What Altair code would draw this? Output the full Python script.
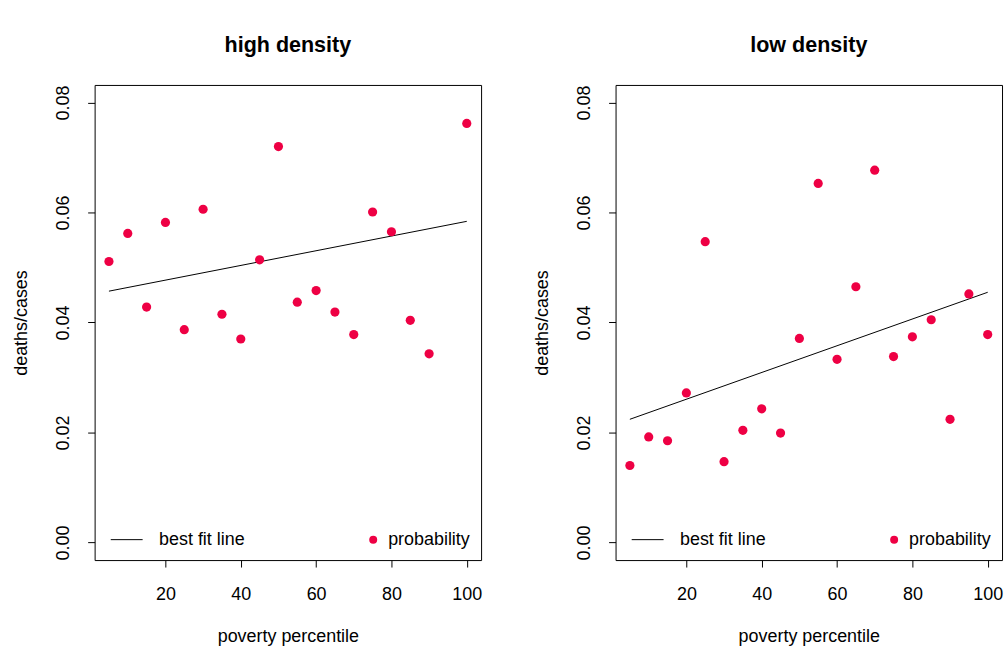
import altair as alt
import pandas as pd

# ---- data ----
high_x = [5, 10, 15, 20, 25, 30, 35, 40, 45, 50, 55, 60, 65, 70, 75, 80, 85, 90, 100]
high_y = [0.0511, 0.0562, 0.0428, 0.0582, 0.0387, 0.0606, 0.0415, 0.0370, 0.0514, 0.0720,
          0.0437, 0.0458, 0.0419, 0.0378, 0.0601, 0.0565, 0.0404, 0.0343, 0.0762]

low_x = [5, 10, 15, 20, 25, 30, 35, 40, 45, 50, 55, 60, 65, 70, 75, 80, 85, 90, 95, 100]
low_y = [0.0140, 0.0192, 0.0185, 0.0272, 0.0547, 0.0147, 0.0204, 0.0243, 0.0199, 0.0371,
         0.0653, 0.0333, 0.0465, 0.0677, 0.0338, 0.0374, 0.0405, 0.0224, 0.0452, 0.0378]

fit_x = [5, 100]
high_fit = [0.0457, 0.0584]
low_fit = [0.0224, 0.0455]

x_ticks = [20, 40, 60, 80, 100]
y_ticks = [0.0, 0.02, 0.04, 0.06, 0.08]

POINT_COLOR = "#EE0044"
FONT = "Liberation Sans"


def panel(title, px, py, fy):
    pts = pd.DataFrame({"x": px, "y": py, "series": "probability"})
    fit = pd.DataFrame({"x": fit_x, "y": fy, "series": "best fit line"})
    xs = alt.Scale(domain=[1.2, 103.8], nice=False, zero=False)
    ys = alt.Scale(domain=[-0.0032, 0.0832], nice=False, zero=False)
    xaxis = alt.Axis(values=x_ticks, title="poverty percentile", format="d",
                     labelPadding=18.5, titlePadding=24, grid=False)
    yaxis = alt.Axis(values=y_ticks, title="deaths/cases", format=".2f",
                     labelAngle=270, labelAlign="center", labelBaseline="bottom",
                     labelPadding=15, titlePadding=24, grid=False)

    line = alt.Chart(fit).mark_line(strokeWidth=1).encode(
        x=alt.X("x:Q", scale=xs, axis=xaxis),
        y=alt.Y("y:Q", scale=ys, axis=yaxis),
        color=alt.Color("series:N",
                        scale=alt.Scale(domain=["best fit line"], range=["black"]),
                        legend=alt.Legend(orient="none", legendX=15.7, legendY=440,
                                          title=None, symbolType="stroke",
                                          symbolSize=1024, symbolStrokeWidth=1,
                                          labelOffset=16, padding=0,
                                          labelFontSize=18, labelFont=FONT,
                                          labelColor="black")),
    )
    points = alt.Chart(pts).mark_circle(size=85, opacity=1).encode(
        x=alt.X("x:Q", scale=xs, axis=xaxis),
        y=alt.Y("y:Q", scale=ys, axis=yaxis),
        fill=alt.Fill("series:N",
                      scale=alt.Scale(domain=["probability"], range=[POINT_COLOR]),
                      legend=alt.Legend(orient="none", legendX=270.7, legendY=447.5,
                                        title=None, symbolType="circle",
                                        symbolSize=64, symbolStrokeWidth=0,
                                        labelOffset=6, padding=0,
                                        labelFontSize=18, labelFont=FONT,
                                        labelColor="black")),
    )
    return alt.layer(line, points).properties(
        width=388, height=477,
        title=alt.Title(title, anchor="middle", frame="group", fontSize=21.6,
                        fontWeight="bold", font=FONT, color="black",
                        baseline="bottom", offset=6.5),
    )


left = panel("high density", high_x, high_y, high_fit)
right = panel("low density", low_x, low_y, low_fit)

chart = (
    alt.hconcat(left, right, spacing=50)
    .resolve_scale(color="independent", fill="independent")
    .resolve_legend(color="independent", fill="independent")
    .properties(padding={"left": 12, "top": 33, "right": 4, "bottom": 4},
                background="white")
    .configure_view(stroke="black", strokeWidth=1)
    .configure_axis(domain=False, tickColor="black", tickSize=7, tickWidth=1,
                    labelFont=FONT, labelFontSize=18, labelColor="black",
                    titleFont=FONT, titleFontSize=18, titleFontWeight="normal",
                    titleColor="black")
)

chart.save("out.html", embed_options={"renderer": "svg", "actions": False})
